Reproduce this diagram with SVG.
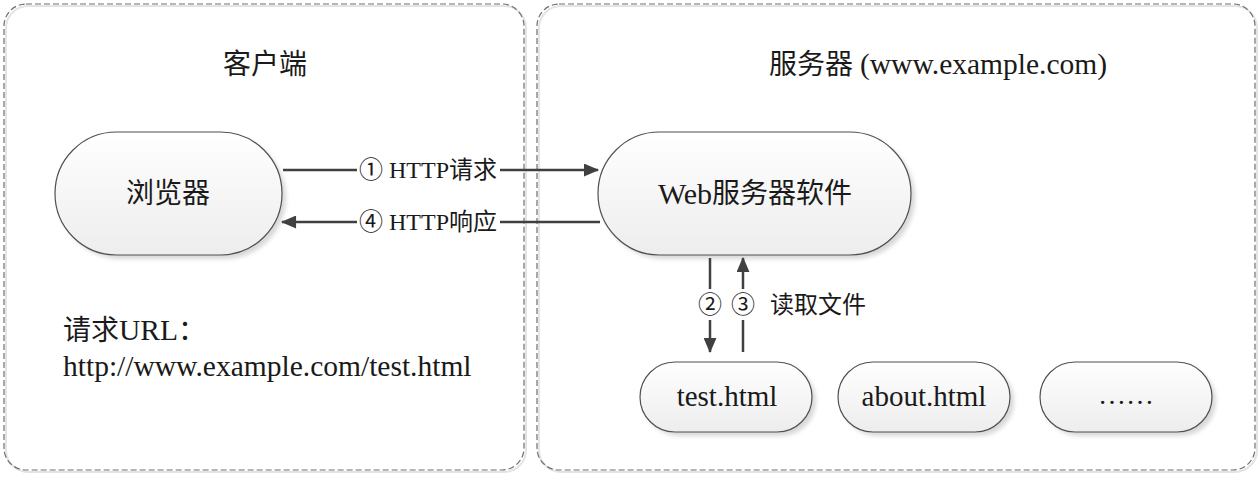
<svg xmlns="http://www.w3.org/2000/svg" width="1260" height="478" viewBox="0 0 1260 478">
<style>
.cont{fill:none;stroke:#6e6e6e;stroke-width:1.2;stroke-dasharray:6 3}
.contsh{fill:none;stroke:#e4e4e4;stroke-width:2}
.node{fill:url(#g);stroke:#505050;stroke-width:1.2}
.sh{fill:#d8d8d8;filter:url(#blur)}
.t{font-family:"Liberation Serif","Noto Sans CJK SC",serif;fill:#1a1a1a;text-anchor:middle;dominant-baseline:central}
.big{font-size:28px}
.lab{font-size:24px}
.ln{stroke:#404040;stroke-width:2.5;fill:none}
</style>
<defs>
<linearGradient id="g" x1="0" y1="0" x2="0" y2="1">
<stop offset="0" stop-color="#ffffff"/>
<stop offset="1" stop-color="#ededed"/>
</linearGradient>
<filter id="blur" x="-10%" y="-10%" width="120%" height="130%"><feGaussianBlur stdDeviation="2"/></filter>
<marker id="ah" viewBox="0 0 14 12" refX="13" refY="6" markerWidth="16" markerHeight="13" markerUnits="userSpaceOnUse" orient="auto">
<path d="M0,0 L14,6 L0,12 z" fill="#404040"/>
</marker>
</defs>

<g id="client">
<rect x="6" y="6" width="520" height="466" rx="22" class="contsh"/>
<rect x="4" y="4" width="520" height="466" rx="22" class="cont"/>
<text class="t big" x="265" y="64">客户端</text>
</g>
<g id="server">
<rect x="539" y="6" width="718" height="466" rx="22" class="contsh"/>
<rect x="537" y="4" width="718" height="466" rx="22" class="cont"/>
<text class="t big" x="938" y="64">服务器 <tspan style="font-size:29.5px">(www.example.com)</tspan></text>
</g>

<g id="browser">
<rect x="59" y="136" width="227" height="123" rx="61.5" class="sh"/>
<rect x="55" y="132" width="227" height="123" rx="61.5" class="node"/>
<text class="t big" x="168" y="193">浏览器</text>
</g>

<g id="webserver">
<rect x="602" y="136" width="313" height="123" rx="61.5" class="sh"/>
<rect x="598" y="132" width="313" height="123" rx="61.5" class="node"/>
<text class="t big" x="755" y="193"><tspan style="font-size:30px">Web</tspan>服务器软件</text>
</g>

<g id="url">
<text class="t big" x="63" y="330" style="text-anchor:start">请求<tspan style="font-size:29.5px">URL</tspan>：</text>
<text class="t" x="63" y="366" style="text-anchor:start;font-size:29.5px">http://www.example.com/test.html</text>
</g>

<g id="test">
<rect x="644" y="366" width="172" height="70" rx="35" class="sh"/>
<rect x="640" y="362" width="172" height="70" rx="35" class="node"/>
<text class="t" x="727" y="396" style="font-size:29px">test.html</text>
</g>
<g id="about">
<rect x="842" y="366" width="172" height="70" rx="35" class="sh"/>
<rect x="838" y="362" width="172" height="70" rx="35" class="node"/>
<text class="t" x="924" y="396" style="font-size:29px">about.html</text>
</g>
<g id="more">
<rect x="1044" y="366" width="172" height="70" rx="35" class="sh"/>
<rect x="1040" y="362" width="172" height="70" rx="35" class="node"/>
<text class="t big" x="1126" y="394">……</text>
</g>

<g id="connectors">
<line class="ln" x1="283" y1="170" x2="357" y2="170"/>
<line class="ln" x1="500" y1="170" x2="598" y2="170" marker-end="url(#ah)"/>
<text class="t lab" x="428" y="170">① HTTP请求</text>
<line class="ln" x1="600" y1="222" x2="500" y2="222"/>
<line class="ln" x1="357" y1="222" x2="282" y2="222" marker-end="url(#ah)"/>
<text class="t lab" x="428" y="222">④ HTTP响应</text>
<line class="ln" x1="710" y1="258" x2="710" y2="289"/>
<line class="ln" x1="710" y1="320" x2="710" y2="352" marker-end="url(#ah)"/>
<text class="t lab" x="710" y="305">②</text>
<line class="ln" x1="743" y1="352" x2="743" y2="320"/>
<line class="ln" x1="743" y1="289" x2="743" y2="258" marker-end="url(#ah)"/>
<text class="t lab" x="743" y="305">③</text>
<text class="t lab" x="770" y="305" style="text-anchor:start">读取文件</text>
</g>
</svg>
